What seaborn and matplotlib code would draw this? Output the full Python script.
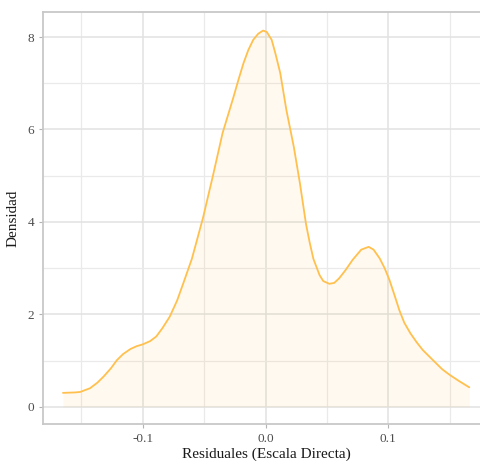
import numpy as np
import pandas as pd
import matplotlib as mpl
mpl.use('Agg')
import matplotlib.pyplot as plt
import seaborn as sns

# density curve
resid = [-0.165, -0.155, -0.151, -0.143, -0.137, -0.132, -0.126, -0.121, -0.116,
         -0.110, -0.105, -0.100, -0.094, -0.089, -0.084, -0.078, -0.072, -0.067,
         -0.060, -0.051, -0.043, -0.035, -0.026, -0.022, -0.018, -0.014, -0.010,
         -0.006, -0.002, 0.001, 0.005, 0.008, 0.012, 0.017, 0.023, 0.028, 0.033,
         0.036, 0.039, 0.044, 0.047, 0.052, 0.056, 0.060, 0.065, 0.071, 0.078,
         0.084, 0.088, 0.093, 0.097, 0.101, 0.105, 0.109, 0.113, 0.118, 0.123,
         0.128, 0.139, 0.144, 0.150, 0.158, 0.166]
dens = [0.30, 0.31, 0.32, 0.40, 0.52, 0.65, 0.83, 1.01, 1.14,
        1.25, 1.31, 1.35, 1.42, 1.52, 1.70, 1.95, 2.30, 2.67,
        3.20, 4.08, 4.98, 5.92, 6.71, 7.08, 7.43, 7.72, 7.94,
        8.07, 8.14, 8.11, 7.94, 7.65, 7.22, 6.42, 5.63, 4.84, 3.95,
        3.55, 3.20, 2.85, 2.72, 2.66, 2.68, 2.78, 2.95, 3.18, 3.40,
        3.46, 3.40, 3.21, 3.00, 2.74, 2.42, 2.09, 1.82, 1.59, 1.40,
        1.23, 0.94, 0.81, 0.69, 0.55, 0.42]

x_major = [-0.1, 0.0, 0.1]
x_labels = ['-0.1', '0.0', '0.1']
x_minor = [-0.15, -0.05, 0.05, 0.15]
y_major = [0, 2, 4, 6, 8]
y_minor = [1, 3, 5, 7]

df = pd.DataFrame({'resid': resid, 'dens': dens})

sns.set_theme(style='white')
plt.rcParams['font.family'] = ['Liberation Serif', 'DejaVu Serif']

fig = plt.figure(figsize=(4.81, 4.61), dpi=100)
ax = fig.add_axes([0.0888, 0.0796, 0.929, 0.8937])

ax.fill_between(df['resid'], df['dens'], color='#FFA500', alpha=0.06, linewidth=0)
sns.lineplot(data=df, x='resid', y='dens', ax=ax, color='#FFC04D', linewidth=1.3)

ax.set_xlim(-0.1815, 0.1825)
ax.set_ylim(-0.38, 8.535)
ax.set_xticks(x_major)
ax.set_xticklabels(x_labels)
ax.set_xticks(x_minor, minor=True)
ax.set_yticks(y_major)
ax.set_yticks(y_minor, minor=True)

ax.grid(which='major', color='#E2E2E2', linewidth=1.1)
ax.grid(which='minor', color='#EAEAEA', linewidth=0.9)
ax.set_axisbelow(True)

for s in ax.spines.values():
    s.set_color('#C8C8C8')
    s.set_linewidth(1.3)

ax.tick_params(axis='both', which='major', length=3, width=0.8, color='#B3B3B3',
               labelsize=9.5, labelcolor='#4D4D4D', pad=3, left=True, bottom=True)
ax.tick_params(axis='both', which='minor', length=0)

ax.set_xlabel('Residuales (Escala Directa)', fontsize=11, color='#1A1A1A', labelpad=2)
ax.set_ylabel('Densidad', fontsize=11, color='#1A1A1A', labelpad=6)

fig.savefig('out.png', dpi=100)
